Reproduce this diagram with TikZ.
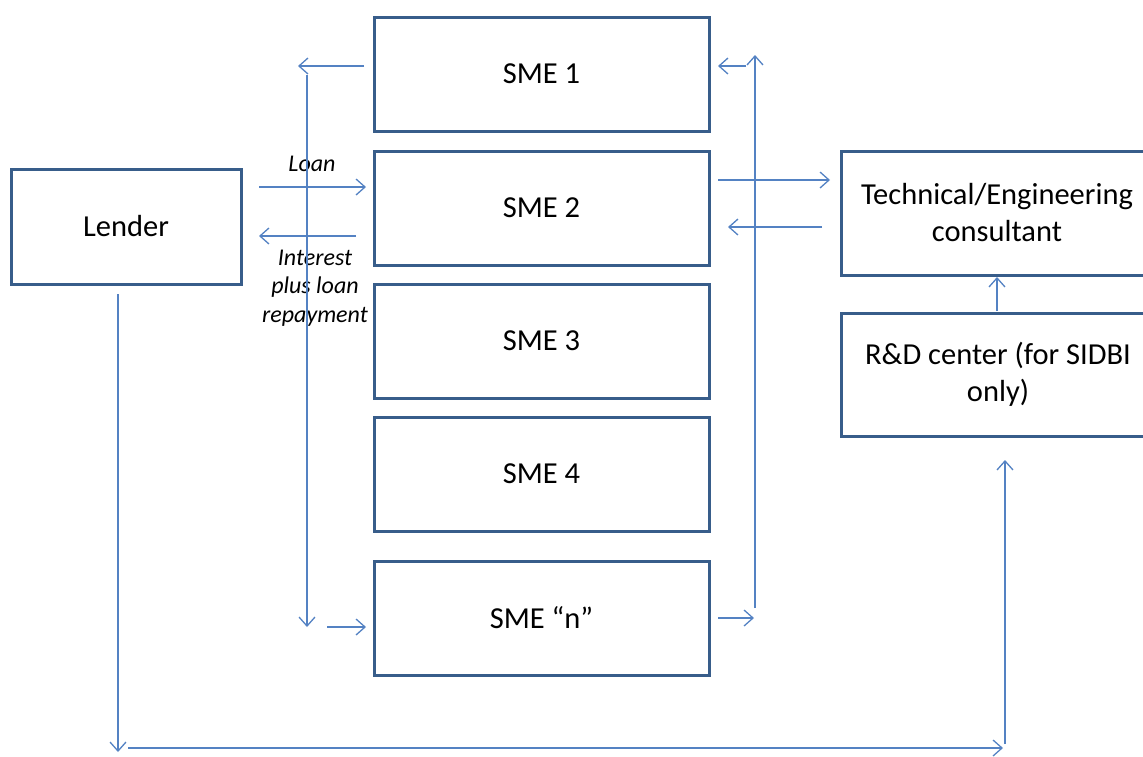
\documentclass[tikz,border=0pt]{standalone}
\usepackage{fontspec}
\setmainfont{Carlito}
\usetikzlibrary{arrows.meta}
\definecolor{boxblue}{RGB}{56,93,138}
\definecolor{arrblue}{RGB}{84,130,195}
\begin{document}
\begin{tikzpicture}[x=1pt,y=-1pt,
  box/.style={draw=boxblue,line width=3pt,inner sep=0pt,align=center,font=\fontsize{30.5}{37}\selectfont},
  conn/.style={draw=arrblue,line width=1.3pt,-{Straight Barb[length=9pt,width=16pt,line width=1.3pt]}},
  lbl/.style={font=\fontsize{24}{28.5}\selectfont\itshape,align=center,inner sep=0pt}]
\useasboundingbox (0,0) rectangle (1143,756);
\clip (0,0) rectangle (1143,756);
% boxes
\node[box,minimum width=335pt,minimum height=114pt] (sme1) at (541.5,74) {SME 1};
\node[box,minimum width=335pt,minimum height=114pt] (sme2) at (541.5,208) {SME 2};
\node[box,minimum width=335pt,minimum height=114pt] (sme3) at (541.5,341) {SME 3};
\node[box,minimum width=335pt,minimum height=114pt] (sme4) at (541.5,474) {SME 4};
\node[box,minimum width=335pt,minimum height=114pt] (smen) at (541.5,618) {SME “n”};
\node[box,minimum width=230pt,minimum height=115pt] (lender) at (126,226.5) {Lender};
\node[box,minimum width=340pt,minimum height=124pt] (tech) at (1011,213) {};
\node[box,minimum width=340pt,minimum height=123pt] (rd) at (1011,374.5) {};
\node[box,draw=none,anchor=center] (techtxt) at (997,213) {Technical/Engineering\\consultant};
\node[box,draw=none,anchor=center] (rdtxt) at (998,374) {R\&D center (for SIDBI\\only)};
% labels
\node[lbl] (loan) at (312,164) {Loan};
\node[lbl] (interest) at (315,288) {Interest\\plus loan\\repayment};
% coordinates
\coordinate (a1s) at (364,66); \coordinate (a1e) at (298,66);
\coordinate (vls) at (307,75); \coordinate (vle) at (307,627);
\coordinate (lns) at (259,187); \coordinate (lne) at (366,187);
\coordinate (ints) at (356,236); \coordinate (inte) at (259,236);
\coordinate (ns) at (327,627); \coordinate (ne) at (366,627);
\coordinate (r1s) at (746,66); \coordinate (r1e) at (718,66);
\coordinate (vrs) at (755,608); \coordinate (vre) at (755,55);
\coordinate (t1s) at (718,180); \coordinate (t1e) at (830,180);
\coordinate (t2s) at (822,227); \coordinate (t2e) at (728,227);
\coordinate (rns) at (718,618); \coordinate (rne) at (754,618);
\coordinate (rds) at (997,311); \coordinate (rde) at (997,277);
\coordinate (lds) at (118,294); \coordinate (lde) at (118,752);
\coordinate (bhs) at (128,748); \coordinate (bhe) at (1003,748);
\coordinate (bvs) at (1005,744); \coordinate (bve) at (1005,460);
% connectors
\draw[conn] (a1s) -- (a1e);
\draw[conn] (vls) -- (vle);
\draw[conn] (lns) -- (lne);
\draw[conn] (ints) -- (inte);
\draw[conn] (ns) -- (ne);
\draw[conn] (r1s) -- (r1e);
\draw[conn] (vrs) -- (vre);
\draw[conn] (t1s) -- (t1e);
\draw[conn] (t2s) -- (t2e);
\draw[conn] (rns) -- (rne);
\draw[conn] (rds) -- (rde);
\draw[conn] (lds) -- (lde);
\draw[conn] (bhs) -- (bhe);
\draw[conn] (bvs) -- (bve);
\end{tikzpicture}
\end{document}
